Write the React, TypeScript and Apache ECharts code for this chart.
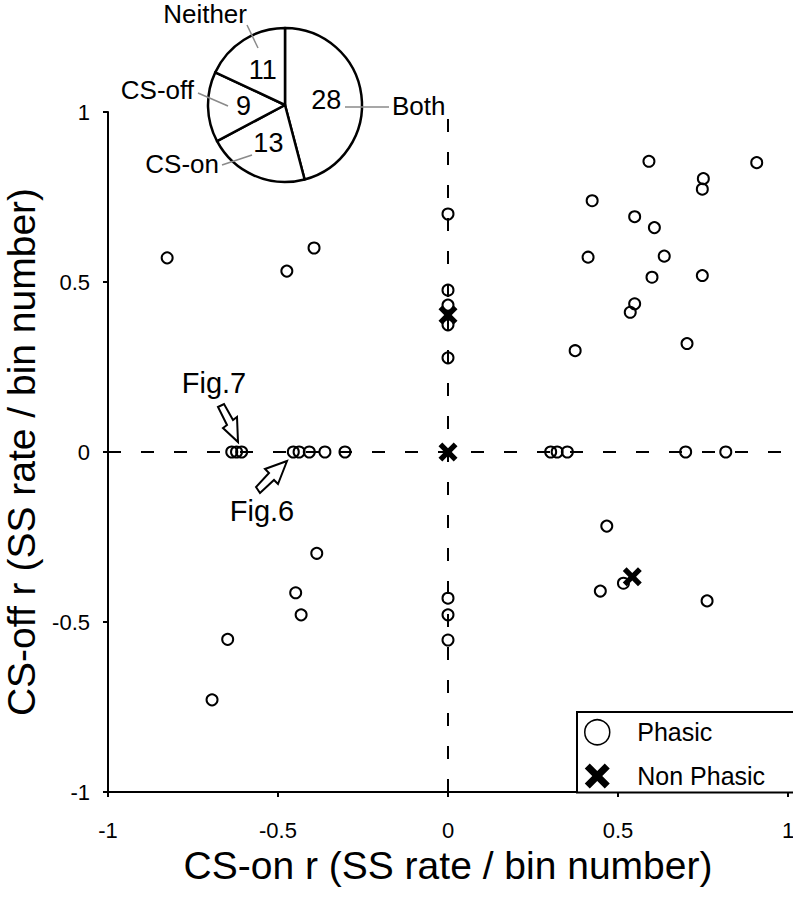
import React, { useEffect, useRef } from "react";
import * as echarts from "echarts";

const FONT = "'Liberation Sans', Arial, sans-serif";

// Scatter data: [CS-on r, CS-off r]
const phasicPoints: number[][] = [
  // upper-left quadrant
  [-0.826, 0.571], [-0.474, 0.532], [-0.394, 0.6],
  // along y = 0, left (Fig.7 group)
  [-0.636, 0], [-0.622, 0], [-0.607, 0],
  // along y = 0, left (Fig.6 group)
  [-0.455, 0], [-0.438, 0], [-0.408, 0], [-0.362, 0], [-0.303, 0],
  // lower-left quadrant
  [-0.386, -0.298], [-0.448, -0.414], [-0.432, -0.479], [-0.648, -0.551], [-0.694, -0.729],
  // along x = 0
  [0, -0.43], [0, -0.479], [0, -0.553],
  [0, 0.7], [0, 0.476], [0, 0.432], [0, 0.374], [0, 0.277],
  // upper-right quadrant
  [0.591, 0.855], [0.908, 0.851], [0.751, 0.804], [0.748, 0.773], [0.424, 0.739],
  [0.549, 0.692], [0.607, 0.66], [0.636, 0.576], [0.412, 0.573], [0.6, 0.514],
  [0.748, 0.519], [0.549, 0.436], [0.536, 0.411], [0.703, 0.319], [0.374, 0.298],
  // along y = 0, right
  [0.302, 0], [0.321, 0], [0.351, 0], [0.699, 0], [0.817, 0],
  // lower-right quadrant
  [0.467, -0.218], [0.448, -0.409], [0.516, -0.386], [0.762, -0.438],
];

const nonPhasicPoints: number[][] = [
  [0, 0.403], [0, 0], [0.542, -0.367],
];

// Pie: classification counts (clockwise from top)
const pieNames = ["Both", "CS-on", "CS-off", "Neither"];
const pieValues = [28, 13, 9, 11];

const axisTicks = [-1, -0.5, 0, 0.5, 1];

const X_PATH =
  "path://M0,4 L4,0 L10,6 L16,0 L20,4 L14,10 L20,16 L16,20 L10,14 L4,20 L0,16 L6,10 Z";

export default function App() {
  const ref = useRef<HTMLDivElement>(null);

  useEffect(() => {
    if (!ref.current) return;
    document.body.style.margin = "0";
    const chart = echarts.init(ref.current, undefined, { renderer: "svg" });

    const axisCommon = {
      type: "value" as const,
      min: axisTicks[0],
      max: axisTicks[axisTicks.length - 1],
      interval: 0.5,
      splitLine: { show: false },
      axisLine: { show: true, onZero: false, lineStyle: { color: "#000", width: 2 } },
      axisTick: { show: true, length: 5, lineStyle: { color: "#000", width: 2 } },
      nameLocation: "middle" as const,
    };

    const leader = (x1: number, y1: number, x2: number, y2: number) => ({
      type: "line",
      z: 100,
      shape: { x1, y1, x2, y2 },
      style: { stroke: "#8a8a8a", lineWidth: 1.5 },
    });

    const pieLabel = (text: string, x: number, y: number, align: string) => ({
      type: "text",
      z: 100,
      x,
      y,
      style: {
        text,
        fontSize: 26,
        fontFamily: FONT,
        fill: "#000",
        align,
        verticalAlign: "middle",
      },
    });

    const figLabel = (text: string, x: number, y: number) => ({
      type: "text",
      z: 100,
      x,
      y,
      style: { text, fontSize: 29, fontFamily: FONT, fill: "#000", align: "center", verticalAlign: "middle" },
    });

    chart.setOption({
      animation: false,
      backgroundColor: "#fff",
      textStyle: { fontFamily: FONT },
      grid: { left: 108, right: 5, top: 112, bottom: 107, outerBoundsMode: "none", containLabel: false },
      xAxis: {
        ...axisCommon,
        name: "CS-on r (SS rate / bin number)",
        nameGap: 51,
        nameTextStyle: { fontSize: 39, color: "#000", fontFamily: FONT },
        axisLabel: { fontSize: 22, color: "#000", margin: 27, fontFamily: FONT },
      },
      yAxis: {
        ...axisCommon,
        name: "CS-off r (SS rate / bin number)",
        nameGap: 66,
        nameTextStyle: { fontSize: 39, color: "#000", fontFamily: FONT },
        axisLabel: { fontSize: 22, color: "#000", margin: 18, fontFamily: FONT },
      },
      legend: {
        orient: "vertical",
        left: 577,
        top: 712,
        padding: [7, 30, 4, 7],
        itemWidth: 26,
        itemHeight: 25,
        itemGap: 18,
        borderColor: "#000",
        borderWidth: 2,
        backgroundColor: "#fff",
        textStyle: { fontSize: 25, color: "#000", fontFamily: FONT, padding: [0, 0, 0, 22] },
        data: [
          {
            name: "Phasic",
            icon: "circle",
            itemStyle: { color: "transparent", borderColor: "#000", borderWidth: 1.5, opacity: 1 },
          },
          {
            name: "Non Phasic",
            icon: X_PATH,
            itemStyle: { color: "#000", borderWidth: 0, opacity: 1 },
          },
        ],
      },
      series: [
        {
          name: "Phasic",
          type: "scatter",
          symbol: "circle",
          symbolSize: 11,
          itemStyle: { color: "transparent", borderColor: "#000", borderWidth: 2, opacity: 1 },
          data: phasicPoints,
          markLine: {
            silent: true,
            symbol: "none",
            label: { show: false },
            lineStyle: { color: "#000", width: 2, type: [13, 20] },
            data: [{ xAxis: 0 }, { yAxis: 0 }],
          },
          z: 3,
        },
        {
          name: "Non Phasic",
          type: "scatter",
          symbol: X_PATH,
          symbolSize: 19,
          itemStyle: { color: "#000", borderWidth: 0, opacity: 1 },
          data: nonPhasicPoints,
          z: 4,
        },
        {
          name: "classification",
          type: "pie",
          silent: true,
          center: [285, 105],
          radius: 77,
          startAngle: 90,
          clockwise: true,
          label: {
            show: true,
            position: "inside",
            formatter: "{c}",
            fontSize: 27,
            color: "#000",
            fontFamily: FONT,
          },
          labelLine: { show: false },
          itemStyle: { color: "#fff", borderColor: "#000", borderWidth: 2.5 },
          data: pieNames.map((n, i) => ({ name: n, value: pieValues[i] })),
        },
      ],
      graphic: [
        leader(247, 25, 258, 48),
        leader(198, 93, 228, 106),
        leader(222, 165, 252, 155),
        leader(345, 107, 389, 107),
        pieLabel("Neither", 247, 14, "right"),
        pieLabel("CS-off", 194, 90, "right"),
        pieLabel("CS-on", 219, 164, "right"),
        pieLabel("Both", 392, 106, "left"),
        figLabel("Fig.7", 214, 383),
        figLabel("Fig.6", 262, 511),
        {
          // Fig.7 arrow (pointing down-right)
          type: "polygon",
          z: 100,
          shape: {
            points: [
              [218, 407], [224, 404], [233, 420], [237, 417], [238, 442], [223, 428], [227, 425],
            ],
          },
          style: { fill: "#fff", stroke: "#000", lineWidth: 2 },
        },
        {
          // Fig.6 arrow (pointing up-right)
          type: "polygon",
          z: 100,
          shape: {
            points: [
              [256, 487], [260, 493], [274, 480], [278, 484], [287, 461], [265, 469], [269, 473],
            ],
          },
          style: { fill: "#fff", stroke: "#000", lineWidth: 2 },
        },
      ],
    });

    return () => chart.dispose();
  }, []);

  return (
    <div
      ref={ref}
      style={{ position: "absolute", left: 0, top: 0, width: 793, height: 899 }}
    />
  );
}
